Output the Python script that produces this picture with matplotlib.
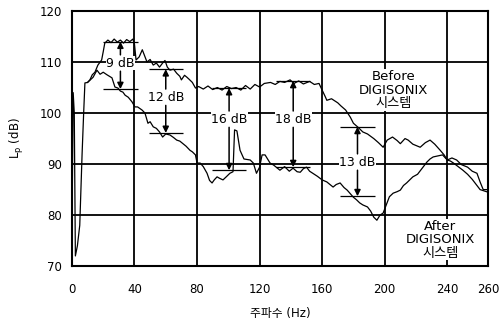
import matplotlib
matplotlib.use("Agg")
import matplotlib.pyplot as plt

plt.rcParams['font.family'] = ['DejaVu Sans', 'Noto Sans CJK KR']

# Sound pressure level before the DIGISONIX system
freq_before = [0, 0.8, 1.5, 2.2, 3.5, 5, 6.5, 7.5, 8.3, 10, 11.5, 13, 14.7, 16.6, 19, 20, 21,
               23, 25, 27, 29, 31, 33, 35, 37, 39, 40, 41, 43, 45, 48, 50, 52, 54, 56, 58,
               59.5, 61, 62.7, 65, 67, 69, 70, 72, 73.6, 75, 77, 79, 81, 84, 87, 90, 93, 96,
               99, 102, 105, 108, 111, 114, 117, 120, 123, 127, 130, 133, 136, 139.5, 142,
               145, 148, 152, 155, 158, 160, 162, 163, 166, 170, 172, 175, 178, 180, 183,
               186, 189, 193, 196, 199, 201.6, 205, 208, 210, 213, 215, 218, 222.7, 226,
               229, 232, 235.5, 238, 240, 243, 246, 249, 253, 256, 259, 261, 263, 266]
lp_before = [76, 104, 100, 72, 74, 78, 92, 100, 105.9, 106, 106.5, 107.5, 108, 109.4, 110.4,
             112, 113.7, 114.3, 113.8, 114.5, 113.9, 114.3, 113.7, 114.4, 114.0, 114.5, 113.5,
             110.4, 111, 112.4, 110, 110.5, 109.4, 109.8, 109, 109.8, 110.3, 109, 108.4,
             108.6, 107.8, 107.2, 106.5, 107.4, 107, 106.6, 106, 104.9, 105.2, 104.7, 105.3,
             104.6, 105.0, 104.5, 105.2, 104.8, 105.0, 104.5, 105.4, 104.7, 105.6, 105.1,
             105.8, 106, 105.6, 106.2, 106, 106.5, 105.8, 106.3, 105.7, 106.2, 105.6, 105.8,
             104.5, 103.2, 102.5, 102.8, 102, 101.4, 100.6, 99.2, 98, 97.2, 96.3, 95.9, 95,
             94.2, 93.3, 94.7, 95.3, 94.6, 94, 95, 94.7, 93.9, 93.3, 94.2, 94.7, 93.9, 92.7,
             91.8, 90.8, 91.2, 90.8, 89.9, 89.4, 88.6, 88.2, 86.5, 85, 85]

# Sound pressure level after the DIGISONIX system
freq_after = [10, 13.5, 16, 18, 20, 22.4, 25.6, 27.5, 29.4, 31, 32.6, 34, 36, 38.4, 40.3, 42,
              44.8, 46.7, 48.6, 50, 52, 54, 56, 58, 60, 62.7, 65, 67, 69, 71, 73, 75.5, 77,
              79, 80, 82, 84, 86.4, 88, 89.6, 91, 92.8, 94.5, 96.6, 99, 101, 103, 104, 105.5,
              107.5, 110, 114, 116, 118, 120, 121.6, 123.5, 126.7, 129, 133, 136, 139, 141.4,
              144, 146, 148, 150, 152, 154, 157, 160, 163, 165, 167, 169, 171.5, 174, 176,
              178, 180, 182, 184, 186, 189, 191, 193, 195, 197, 199, 201, 203, 205.4, 208,
              210, 212, 214, 216, 218, 221, 223, 225, 227, 229, 231, 234, 237, 240, 242, 244,
              247, 250, 253, 256, 258, 261, 264, 266]
lp_after = [106, 107, 108.4, 107.6, 108, 107.5, 106.9, 105.1, 104.9, 104.3, 104.1, 103.5,
            103.1, 102.2, 101.2, 101.2, 100.6, 100, 98, 98.3, 97.3, 97, 96.3, 95.3, 95.9,
            95.7, 95.2, 94.7, 94.5, 94, 93.5, 92.7, 92.4, 91.8, 90.2, 90.2, 89.5, 88.2, 86.8,
            86.3, 86.9, 87.5, 87.2, 86.9, 87.6, 88.2, 88.5, 96.7, 96.5, 92.7, 91, 90.8, 90.2,
            88.2, 89.4, 91.8, 91.8, 90.2, 89.8, 88.8, 89.5, 88.6, 89.2, 88.5, 88.4, 89.1,
            89.4, 88.6, 88.2, 87.6, 86.9, 86.5, 86.0, 85.5, 86.0, 86.3, 85.4, 84.9, 84.2,
            83.5, 83.0, 82.4, 82.0, 81.6, 80.8, 79.6, 79, 80, 80.4, 82, 83.6, 84.3, 84.6,
            84.9, 85.8, 86.3, 86.9, 87.5, 88.0, 88.8, 89.6, 90.4, 91.0, 91.4, 91.6, 91.8,
            90.8, 90.6, 90.2, 89.5, 88.8, 88.0, 87.0, 86.2, 85, 84.7, 84.5]

# reductions: label, frequency, level before, level after
red_labels = ['9 dB', '12 dB', '16 dB', '18 dB', '13 dB']
red_freq = [31, 60, 100.5, 141.5, 182.6]
red_top = [114.0, 108.6, 104.9, 106.3, 97.3]
red_bot = [104.7, 96.1, 88.8, 89.4, 83.7]
red_text_y = [109.8, 103.1, 98.8, 98.8, 90.4]

x_ticks = [0, 40, 80, 120, 160, 200, 240, 266]
x_ticklabels = ['0', '40', '80', '120', '160', '200', '240', '260']
y_ticks = [70, 80, 90, 100, 110, 120]

fig = plt.figure(figsize=(5.03, 3.23), dpi=100)
ax = fig.add_axes([0.143, 0.176, 0.827, 0.79])

ax.plot(freq_before, lp_before, color='black', linewidth=0.9)
ax.plot(freq_after, lp_after, color='black', linewidth=0.9)

for lab, f, top, bot, ty in zip(red_labels, red_freq, red_top, red_bot, red_text_y):
    ax.hlines([top, bot], f - 11, f + 11, color='black', linewidth=0.9)
    ax.annotate('', xy=(f, top), xytext=(f, ty + 1.6),
                arrowprops=dict(arrowstyle='-|>', color='black', lw=1.1, mutation_scale=9,
                                shrinkA=0, shrinkB=0))
    ax.annotate('', xy=(f, bot), xytext=(f, ty - 1.6),
                arrowprops=dict(arrowstyle='-|>', color='black', lw=1.1, mutation_scale=9,
                                shrinkA=0, shrinkB=0))
    ax.text(f, ty, lab, ha='center', va='center', fontsize=9,
            bbox=dict(facecolor='white', edgecolor='none', pad=0.3))

ax.text(205.5, 104.5, 'Before\nDIGISONIX\n시스템', ha='center', va='center', fontsize=9.5,
        linespacing=1.05, bbox=dict(facecolor='white', edgecolor='none', pad=0.5))
ax.text(235.5, 75.2, 'After\nDIGISONIX\n시스템', ha='center', va='center', fontsize=9.5,
        linespacing=1.05, bbox=dict(facecolor='white', edgecolor='none', pad=0.5))

ax.set_xlim(0, 266)
ax.set_ylim(70, 120)
ax.set_xticks(x_ticks)
ax.set_xticklabels(x_ticklabels)
ax.set_yticks(y_ticks)
ax.tick_params(length=0, labelsize=8.5, pad=7)
ax.tick_params(axis='x', pad=12)
ax.grid(True, color='black', linewidth=1.3)
for s in ax.spines.values():
    s.set_linewidth(1.5)

ax.set_xlabel('주파수 (Hz)', fontsize=8.5, labelpad=8)
ax.set_ylabel('L$_\\mathrm{p}$ (dB)', fontsize=8.5, labelpad=10)

fig.savefig('out.png', dpi=100)
